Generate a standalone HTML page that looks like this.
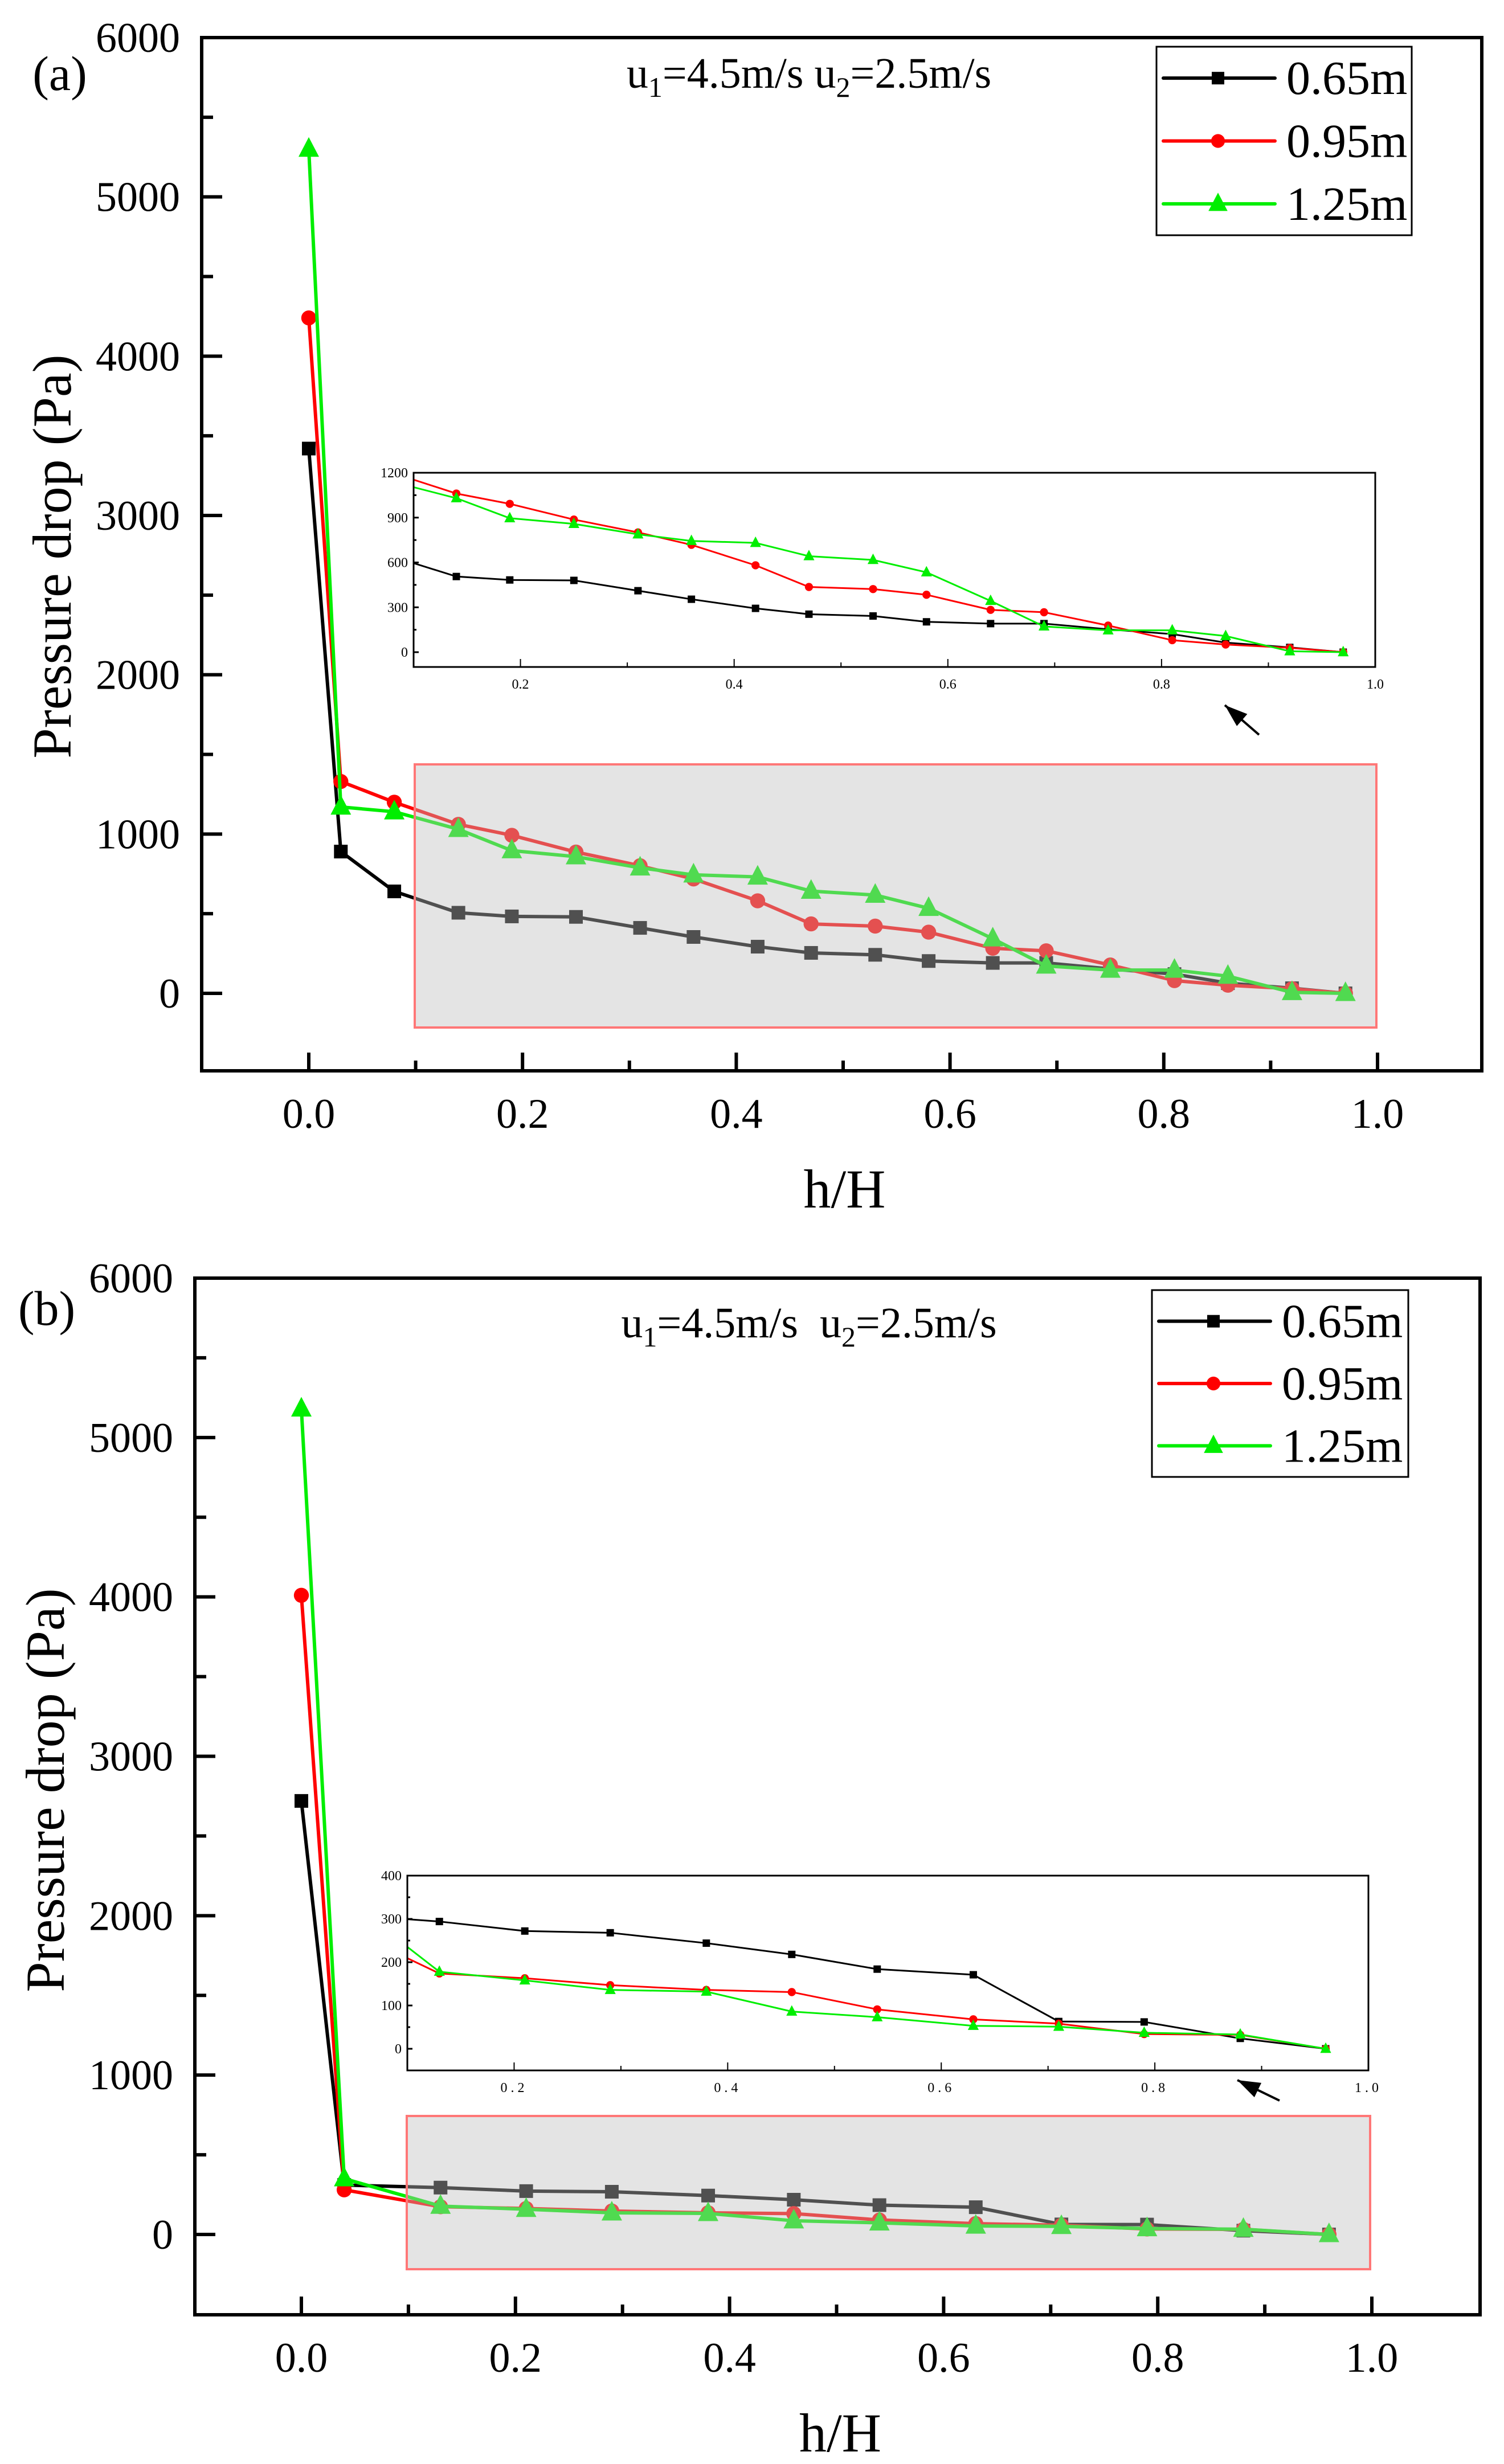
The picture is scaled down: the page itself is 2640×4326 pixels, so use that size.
<!DOCTYPE html>
<html><head><meta charset="utf-8">
<style>
html,body{margin:0;padding:0;background:#fff}
svg{display:block}
text{font-family:"Liberation Serif",serif;fill:#000}
</style></head>
<body>
<svg id="fig" width="2640" height="4326" viewBox="0 0 2640 4326" xmlns="http://www.w3.org/2000/svg">
</svg>
<script>
// ===== Panel (a) data =====
const aX = [0, 0.03, 0.08, 0.14, 0.19, 0.25, 0.31, 0.36, 0.42, 0.47, 0.53, 0.58, 0.64, 0.69, 0.75, 0.81, 0.86, 0.92, 0.97];
const aBlack = [3420, 890, 640, 506, 483, 480, 411, 354, 293, 254, 242, 203, 191, 191, 153, 121, 64, 32, 0];
const aRed = [4240, 1330, 1200, 1061, 992, 887, 801, 718, 581, 436, 422, 384, 283, 267, 178, 80, 51, 29, 0];
const aGreen = [5300, 1170, 1140, 1030, 896, 858, 788, 744, 731, 642, 617, 534, 343, 172, 146, 146, 108, 6, 0];
// ===== Panel (b) data =====
const bX = [0, 0.04, 0.13, 0.21, 0.29, 0.38, 0.46, 0.54, 0.63, 0.71, 0.79, 0.88, 0.96];
const bBlack = [2720, 310, 294, 272, 268, 244, 218, 184, 171, 63, 62, 24, 0];
const bRed = [4010, 280, 174, 163, 147, 136, 131, 91, 68, 58, 34, 32, 0];
const bGreen = [5180, 350, 178, 158, 136, 132, 86, 73, 53, 51, 37, 33, 0];
// ticks / labels
const mainYTicks = [0, 1000, 2000, 3000, 4000, 5000, 6000];
const mainXTicks = [0, 0.2, 0.4, 0.6, 0.8, 1.0];
const insetAYTicks = [0, 300, 600, 900, 1200];
const insetBYTicks = [0, 100, 200, 300, 400];
const insetXTicks = [0.2, 0.4, 0.6, 0.8, 1.0];
const seriesNames = ["0.65m", "0.95m", "1.25m"];

const NS = "http://www.w3.org/2000/svg";
const svg = document.getElementById('fig');
function el(tag, attrs, parent) {
  const e = document.createElementNS(NS, tag);
  for (const k in attrs) e.setAttribute(k, attrs[k]);
  (parent || svg).appendChild(e);
  return e;
}
function txt(s, attrs, parent) { const t = el('text', attrs, parent); t.textContent = s; return t; }

function marker(g, kind, x, y, s, color) {
  let m;
  if (kind === 0) m = el('rect', {x: x - s/2, y: y - s/2, width: s, height: s, fill: color}, g);
  else if (kind === 1) m = el('circle', {cx: x, cy: y, r: s*0.55, fill: color}, g);
  else m = el('polygon', {points: `${x},${y - s*0.7} ${x - s*0.6},${y + s*0.45} ${x + s*0.6},${y + s*0.45}`, fill: color}, g);
  return m;
}

const COLORS = ["#000000", "#ff0000", "#00ee00"];

function panel(P) {
  const g = el('g', {});
  
  
  const sx = v => P.x0 + (P.x1 - P.x0) * v;
  const sy = v => P.y0 - (P.y0 - P.y6) * v / 6000;
  const clipId = P.name + '-clip';
  const defs = el('defs', {}, g);
  const cp = el('clipPath', {id: clipId}, defs);
  el('rect', {x: P.L, y: P.T, width: P.R - P.L, height: P.B - P.T}, cp);

  const series = [P.black, P.red, P.green];
  const sg = el('g', {'clip-path': `url(#${clipId})`}, g);
  
  
  series.forEach((vals, si) => {
    const pts = vals.map((v, i) => `${sx(P.xs[i])},${sy(v)}`).join(' ');
    const line = el('polyline', {points: pts, fill: 'none', stroke: COLORS[si], 'stroke-width': 6, 'stroke-linejoin': 'round'}, sg);
    
    
    vals.forEach((v, i) => {
      const m = marker(sg, si, sx(P.xs[i]), sy(v), [24, 24, 30][si], COLORS[si]);
      
      
    });
  });

  const box = el('rect', {x: P.box[0], y: P.box[1], width: P.box[2] - P.box[0], height: P.box[3] - P.box[1], fill: 'rgb(190,190,190)', 'fill-opacity': 0.42, stroke: '#ff7777', 'stroke-width': 4}, g);
  
  

  const fr = el('rect', {x: P.L, y: P.T, width: P.R - P.L, height: P.B - P.T, fill: 'none', stroke: '#000', 'stroke-width': 6}, g);
  
  

  for (let v = 0; v <= 6000; v += 500) {
    const major = v % 1000 === 0;
    el('line', {x1: P.L, x2: P.L + (major ? 36 : 20), y1: sy(v), y2: sy(v), stroke: '#000', 'stroke-width': 6}, g);
  }
  mainYTicks.forEach(v => {
    const t = txt(String(v), {x: P.L - 38, y: sy(v) + 25, 'font-size': 74, 'text-anchor': 'end'}, g);
    
    
  });
  for (let k = 0; k <= 10; k++) {
    const v = k / 10;
    const major = k % 2 === 0;
    el('line', {x1: sx(v), x2: sx(v), y1: P.B, y2: P.B - (major ? 32 : 18), stroke: '#000', 'stroke-width': 6}, g);
  }
  mainXTicks.forEach(v => {
    const t = txt(v.toFixed(1), {x: sx(v), y: P.B + 100, 'font-size': 74, 'text-anchor': 'middle'}, g);
    
    
  });
  const xt = txt('h/H', {x: (P.L + P.R) / 2 + 5, y: P.B + 240, 'font-size': 96, 'text-anchor': 'middle'}, g);
  
  
  const yt = txt('Pressure drop (Pa)', {x: 0, y: 0, 'font-size': 96, 'text-anchor': 'middle', transform: `translate(${P.ytx},${P.yty}) rotate(-90)`}, g);
  
  
  const pl = txt(P.label, {x: P.labx, y: P.laby, 'font-size': 86, 'text-anchor': 'middle'}, g);
  
  

  const ct = el('text', {x: 1420, y: P.condY, 'font-size': 76, 'text-anchor': 'middle'}, g);
  
  
  ct.innerHTML = `u<tspan font-size="50" dy="16">1</tspan><tspan dy="-16">=4.5m/s${P.gap}u</tspan><tspan font-size="50" dy="16">2</tspan><tspan dy="-16">=2.5m/s</tspan>`;

  const lg = el('g', {}, g);
  
  
  const [lx, ly, lx2, ly2] = P.legend;
  el('rect', {x: lx, y: ly, width: lx2 - lx, height: ly2 - ly, fill: '#fff', stroke: '#000', 'stroke-width': 3}, lg);
  const rowH = (ly2 - ly) / 3;
  seriesNames.forEach((n, i) => {
    const e = el('g', {}, lg);
    
    
    const cy = ly + rowH * (i + 0.5);
    el('line', {x1: lx + 12, x2: lx + 208, y1: cy, y2: cy, stroke: COLORS[i], 'stroke-width': 6, 'stroke-linecap': 'round'}, e);
    marker(e, i, lx + 108, cy, [22, 22, 28][i], COLORS[i]);
    txt(n, {x: lx + 228, y: cy + 28, 'font-size': 84}, e);
  });

  const I = P.inset;
  const ig = el('g', {}, g);
  
  
  const ix = v => I.L + (v - 0.1) / 0.9 * (I.R - I.L);
  const iy = v => I.y0 - (I.y0 - I.yTop) * v / I.yMax;
  el('rect', {x: I.L, y: I.T, width: I.R - I.L, height: I.B - I.T, fill: '#fff'}, ig);
  const icid = P.name + '-iclip';
  const icp = el('clipPath', {id: icid}, defs);
  el('rect', {x: I.L, y: I.T, width: I.R - I.L, height: I.B - I.T}, icp);
  const isg = el('g', {'clip-path': `url(#${icid})`}, ig);
  series.forEach((vals, si) => {
    const pts = vals.map((v, i) => `${ix(P.xs[i])},${iy(v)}`).join(' ');
    const line = el('polyline', {points: pts, fill: 'none', stroke: COLORS[si], 'stroke-width': 3}, isg);
    
    
    vals.forEach((v, i) => {
      if (P.xs[i] < 0.1) return;
      const m = marker(isg, si, ix(P.xs[i]), iy(v), [13, 13, 16][si], COLORS[si]);
      
      
    });
  });
  el('rect', {x: I.L, y: I.T, width: I.R - I.L, height: I.B - I.T, fill: 'none', stroke: '#000', 'stroke-width': 3}, ig);
  const step = I.yTicks[1] - I.yTicks[0];
  for (let v = 0; v <= I.yMax; v += step / 2) {
    const major = (v / step) % 1 === 0;
    el('line', {x1: I.L, x2: I.L + (major ? 9 : 5), y1: iy(v), y2: iy(v), stroke: '#000', 'stroke-width': 3}, ig);
  }
  I.yTicks.forEach(v => {
    const t = txt(String(v), {x: I.L - 10, y: iy(v) + 8, 'font-size': 24, 'text-anchor': 'end', fill: '#000'}, ig);
    
    
  });
  for (let k = 2; k <= 10; k++) {
    const v = k / 10;
    el('line', {x1: ix(v), x2: ix(v), y1: I.B, y2: I.B - (k % 2 === 0 ? 14 : 8), stroke: '#000', 'stroke-width': 2}, ig);
  }
  insetXTicks.forEach(v => {
    const t = txt(v.toFixed(1), {x: ix(v), y: I.B + 38, 'font-size': 24, 'text-anchor': 'middle', 'letter-spacing': P.ls}, ig);
    
    
  });

  const [ax1, ay1, ax2, ay2] = P.arrow;
  const ag = el('g', {}, g);
  
  
  el('line', {x1: ax1, y1: ay1, x2: ax2, y2: ay2, stroke: '#000', 'stroke-width': 4}, ag);
  const ang = Math.atan2(ay2 - ay1, ax2 - ax1);
  const hl = 40, hw = 14;
  const bx = ax2 - hl * Math.cos(ang), by = ay2 - hl * Math.sin(ang);
  el('polygon', {points: `${ax2},${ay2} ${bx + hw * Math.sin(ang)},${by - hw * Math.cos(ang)} ${bx - hw * Math.sin(ang)},${by + hw * Math.cos(ang)}`, fill: '#000'}, ag);
}

panel({
  name: 'panel-a', label: '(a)', labx: 105, laby: 158,
  L: 354, T: 66, R: 2601, B: 1880, x0: 542, x1: 2418, y0: 1744, y6: 66,
  xs: aX, black: aBlack, red: aRed, green: aGreen,
  box: [728, 1342, 2416, 1804],
  ytx: 124, yty: 977, condY: 154, gap: ' ',
  legend: [2030, 82, 2478, 413],
  inset: {L: 726, R: 2414, T: 830, B: 1171, y0: 1145, yTop: 830, yMax: 1200, yTicks: insetAYTicks},
  ls: 0,
  arrow: [2210, 1290, 2150, 1238]
});
panel({
  name: 'panel-b', label: '(b)', labx: 82, laby: 2326,
  L: 342, T: 2244, R: 2598, B: 4064, x0: 529, x1: 2408, y0: 3923, y6: 2244,
  xs: bX, black: bBlack, red: bRed, green: bGreen,
  box: [714, 3715, 2405, 3984],
  ytx: 112, yty: 3143, condY: 2348, gap: '\u00a0 ',
  legend: [2022, 2265, 2472, 2593],
  inset: {L: 715, R: 2402, T: 3293, B: 3635, y0: 3597, yTop: 3293, yMax: 400, yTicks: insetBYTicks},
  ls: 6,
  arrow: [2246, 3688, 2172, 3652]
});
</script>
</body></html>
